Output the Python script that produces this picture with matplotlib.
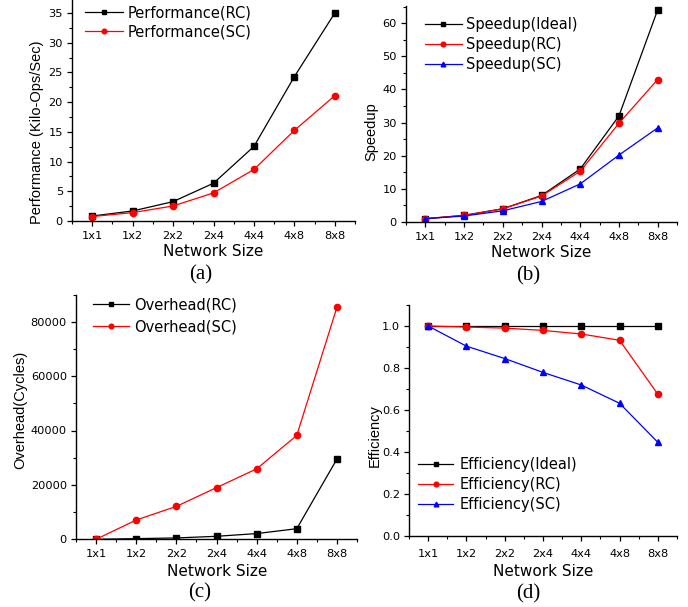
import matplotlib
matplotlib.use("Agg")
import matplotlib.pyplot as plt
from matplotlib.ticker import MultipleLocator, FixedLocator, FormatStrFormatter

# ---- data ----
network_sizes = ["1x1", "1x2", "2x2", "2x4", "4x4", "4x8", "8x8"]

perf_rc = [0.84, 1.69, 3.26, 6.36, 12.55, 24.3, 35.0]
perf_sc = [0.75, 1.41, 2.53, 4.73, 8.67, 15.25, 21.1]

speedup_ideal = [1, 2, 4, 8, 16, 32, 64]
speedup_rc = [1.0, 1.99, 3.96, 7.84, 15.3, 29.8, 43.0]
speedup_sc = [1.0, 1.81, 3.38, 6.2, 11.5, 20.2, 28.4]

overhead_rc = [0, 250, 500, 1100, 2100, 3900, 29500]
overhead_sc = [0, 7100, 12100, 19000, 25900, 38200, 85300]

eff_ideal = [1.0, 1.0, 1.0, 1.0, 1.0, 1.0, 1.0]
eff_rc = [1.0, 0.995, 0.99, 0.979, 0.962, 0.932, 0.675]
eff_sc = [1.0, 0.904, 0.845, 0.779, 0.719, 0.632, 0.446]

W, H = 688, 607
plt.rcParams["font.family"] = ["DejaVu Sans"]
fig = plt.figure(figsize=(W / 100, H / 100), dpi=100)

TICK_FS = 8.2
LABEL_FS = 11
YLABEL_FS = 10.5
LEG_FS = 10.5
CAP_FS = 15


def px_axes(left, right, bottom, top):
    return fig.add_axes([left / W, 1 - bottom / H, (right - left) / W, (bottom - top) / H])


def style(ax, ymax, major, minor, fmt=None, xpad=3.5):
    x = list(range(len(network_sizes)))
    ax.set_xlim(-0.5, 6.5)
    ax.set_ylim(0, ymax)
    ax.set_xticks(x)
    ax.set_xticklabels(network_sizes)
    ax.xaxis.set_minor_locator(FixedLocator([i + 0.5 for i in range(-1, 7)]))
    ax.yaxis.set_major_locator(MultipleLocator(major))
    ax.yaxis.set_minor_locator(MultipleLocator(minor))
    if fmt:
        ax.yaxis.set_major_formatter(fmt)
    for s in ("top", "right"):
        ax.spines[s].set_visible(False)
    for s in ("left", "bottom"):
        ax.spines[s].set_linewidth(1.0)
    ax.tick_params(which="major", direction="out", length=3.5, width=0.9, labelsize=TICK_FS, pad=3)
    ax.tick_params(axis="x", which="major", pad=xpad)
    ax.tick_params(which="minor", direction="out", length=2, width=0.8)
    ax.patch.set_alpha(0)


def legend(ax, x, top, hl, tp, ls):
    ax.legend(loc="upper left", bbox_to_anchor=(x / W, 1 - top / H),
              bbox_transform=fig.transFigure, frameon=False, fontsize=LEG_FS,
              borderpad=0, borderaxespad=0, handlelength=hl, handletextpad=tp,
              labelspacing=ls, markerscale=0.75)


line_kw = dict(linewidth=0.9)
xs = list(range(len(network_sizes)))

# (a) performance
ax_a = px_axes(72, 355, 221, 0)
ax_a.plot(xs, perf_rc, color="black", marker="s", markersize=4, label="Performance(RC)", **line_kw)
ax_a.plot(xs, perf_sc, color="red", marker="o", markersize=4.5, label="Performance(SC)", **line_kw)
style(ax_a, 37.2, 5, 2.5)
legend(ax_a, 85, 5.5, 2.6, 0.34, 0.27)

# (b) speedup
ax_b = px_axes(406, 677, 222, 6)
ax_b.plot(xs, speedup_ideal, color="black", marker="s", markersize=4, label="Speedup(Ideal)", **line_kw)
ax_b.plot(xs, speedup_rc, color="red", marker="o", markersize=4.5, label="Speedup(RC)", **line_kw)
ax_b.plot(xs, speedup_sc, color="blue", marker="^", markersize=4.5, label="Speedup(SC)", **line_kw)
style(ax_b, 65.2, 10, 5)
legend(ax_b, 425, 17.5, 2.53, 0.27, 0.34)

# (c) overhead
ax_c = px_axes(76, 357, 539.3, 294.5)
ax_c.plot(xs, overhead_rc, color="black", marker="s", markersize=4, label="Overhead(RC)", **line_kw)
ax_c.plot(xs, overhead_sc, color="red", marker="o", markersize=4.5, label="Overhead(SC)", **line_kw)
style(ax_c, 90000, 20000, 10000)
legend(ax_c, 93, 297, 2.47, 0.34, 0.48)

# (d) efficiency
ax_d = px_axes(409, 677, 536, 305)
ax_d.plot(xs, eff_ideal, color="black", marker="s", markersize=4, label="Efficiency(Ideal)", **line_kw)
ax_d.plot(xs, eff_rc, color="red", marker="o", markersize=4.5, label="Efficiency(RC)", **line_kw)
ax_d.plot(xs, eff_sc, color="blue", marker="^", markersize=4.5, label="Efficiency(SC)", **line_kw)
style(ax_d, 1.1, 0.2, 0.1, fmt=FormatStrFormatter("%.1f"), xpad=6)
legend(ax_d, 418, 457.5, 2.4, 0.48, 0.34)


def ftext(x, y, s, **kw):
    fig.text(x / W, 1 - y / H, s, ha="center", va="center", **kw)


# axis titles
ylab_kw = dict(rotation=90, fontsize=YLABEL_FS, family=["Liberation Sans", "DejaVu Sans"])
ftext(37.5, 132, "Performance (Kilo-Ops/Sec)", **ylab_kw)
ftext(371.5, 132, "Speedup", **ylab_kw)
ftext(20.5, 410, "Overhead(Cycles)", **ylab_kw)
ftext(375, 436, "Efficiency", **ylab_kw)
ftext(213.5, 252, "Network Size", fontsize=LABEL_FS)
ftext(541, 252.7, "Network Size", fontsize=LABEL_FS)
ftext(217, 571.7, "Network Size", fontsize=LABEL_FS)
ftext(543, 571.7, "Network Size", fontsize=LABEL_FS)

# panel captions
cap_kw = dict(fontsize=CAP_FS, family=["Liberation Serif", "DejaVu Serif"])
ftext(200.5, 275, "(a)", **cap_kw)
ftext(528.5, 276, "(b)", **cap_kw)
ftext(200, 593, "(c)", **cap_kw)
ftext(528, 594, "(d)", **cap_kw)

fig.savefig("out.png", dpi=100)
